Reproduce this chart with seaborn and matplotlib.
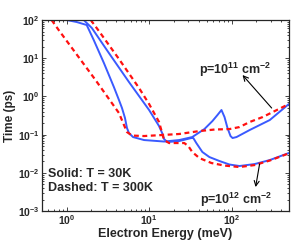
import matplotlib
matplotlib.use('Agg')
import matplotlib.pyplot as plt
import seaborn as sns

# p = 1e11 cm^-2, T = 30K (solid)
e_u30 = [1.0, 1.32, 1.75, 2.13, 2.83, 3.74, 4.31, 4.69, 5.10, 5.39, 5.70, 6.38, 8.69, 15.2, 23.2,
         33.4, 46.9, 58.7, 67.5, 75.5, 82.2, 89.4, 97.2, 103, 115, 166, 291, 495]
t_u30 = [100, 88.7, 74.0, 29.9, 7.49, 1.76, 0.805, 0.497, 0.272, 0.149, 0.110, 0.0865, 0.0722, 0.066, 0.0722,
         0.0865, 0.140, 0.227, 0.326, 0.441, 0.289, 0.149, 0.0919, 0.0815, 0.0865, 0.132, 0.241, 0.63]

# p = 1e11 cm^-2, T = 300K (dashed)
e_u300 = [0.656, 0.80, 2.02, 2.26, 4.31, 4.96, 5.39, 6.21, 8.69, 14.4, 23.2, 40.7, 62.1, 94.6, 125, 166, 239, 495]
t_u300 = [100, 54.7, 3.63, 2.61, 0.367, 0.178, 0.117, 0.0946, 0.0919, 0.0977, 0.104, 0.124, 0.136, 0.140,
          0.158, 0.214, 0.289, 0.63]

# p = 1e12 cm^-2, T = 30K (solid)
e_l30 = [1.61, 2.02, 3.25, 5.70, 10, 13.2, 14.4, 15.2, 16.6, 23.2, 32.5, 34.4, 37.4, 44.3, 53.9, 71.4,
         94.6, 125, 191, 291, 495]
t_l30 = [100, 61.8, 13.7, 2.38, 0.441, 0.168, 0.110, 0.0767, 0.064, 0.068, 0.0815, 0.0815, 0.0603, 0.0351,
         0.0259, 0.0204, 0.0165, 0.0151, 0.0170, 0.0216, 0.0330]

# p = 1e12 cm^-2, T = 300K (dashed)
e_l300 = [1.96, 2.46, 4.31, 7.55, 10, 13.2, 14.4, 15.2, 17.5, 26.7, 29.9, 33.4, 40.7, 57.0, 82.2, 125, 191, 291, 495]
t_l300 = [100, 51.5, 9.53, 1.66, 0.633, 0.214, 0.110, 0.0722, 0.0603, 0.0603, 0.0503, 0.0351, 0.0244, 0.0181,
          0.0155, 0.0142, 0.016, 0.021, 0.0323]

sns.set_style('ticks')
plt.rcParams['font.family'] = ['Liberation Sans', 'DejaVu Sans']
plt.rcParams['font.weight'] = 'bold'
plt.rcParams['font.size'] = 9
plt.rcParams['mathtext.fontset'] = 'custom'
plt.rcParams['mathtext.rm'] = 'Liberation Sans:bold'
plt.rcParams['mathtext.it'] = 'Liberation Sans:bold'
plt.rcParams['mathtext.bf'] = 'Liberation Sans:bold'
plt.rcParams['mathtext.default'] = 'rm'

fig = plt.figure(figsize=(2.99, 2.44), dpi=100)
ax = fig.add_axes([0.140, 0.135, 0.827, 0.783])

blue = '#3a5aff'
red = '#ff1010'
sns.lineplot(x=e_u30, y=t_u30, ax=ax, color=blue, lw=1.4, estimator=None, sort=False)
sns.lineplot(x=e_l30, y=t_l30, ax=ax, color=blue, lw=1.4, estimator=None, sort=False)
sns.lineplot(x=e_u300, y=t_u300, ax=ax, color=red, lw=1.6, linestyle=(0, (2.2, 1.6)), estimator=None, sort=False)
sns.lineplot(x=e_l300, y=t_l300, ax=ax, color=red, lw=1.6, linestyle=(0, (2.2, 1.6)), estimator=None, sort=False)

ax.set_xscale('log')
ax.set_yscale('log')
ax.set_xlim(0.5, 500)
ax.set_ylim(1e-3, 1e2)
ax.set_xlabel('Electron Energy (meV)', fontweight='bold', labelpad=1)
ax.set_ylabel('Time (ps)', fontweight='bold', fontsize=8.5)
ax.yaxis.set_label_coords(-0.103, 0.5)
ax.tick_params(which='both', direction='in', top=True, right=True, width=0.6, pad=1.5, labelsize=7.5)
ax.tick_params(which='major', length=3)
ax.tick_params(which='minor', length=1.5)
for s in ax.spines.values():
    s.set_linewidth(0.9)

ax.text(112, 4.9, 'p=10$^{11}$ cm$^{-2}$', ha='center', va='center', fontweight='bold')
ax.annotate('', xy=(136, 3.63), xytext=(307, 0.497),
            arrowprops=dict(arrowstyle='->', color='black', lw=0.8, shrinkA=0, shrinkB=0))
ax.text(115, 0.00194, 'p=10$^{12}$ cm$^{-2}$', ha='center', va='center', fontweight='bold')
ax.annotate('', xy=(196, 0.00425), xytext=(219, 0.0170),
            arrowprops=dict(arrowstyle='->', color='black', lw=0.8, shrinkA=0, shrinkB=0))

ax.text(0.024, 0.194, 'Solid: T = 30K', transform=ax.transAxes, ha='left', va='center', fontweight='bold')
ax.text(0.024, 0.120, 'Dashed: T = 300K', transform=ax.transAxes, ha='left', va='center', fontweight='bold')

fig.savefig('out.png', dpi=100)
